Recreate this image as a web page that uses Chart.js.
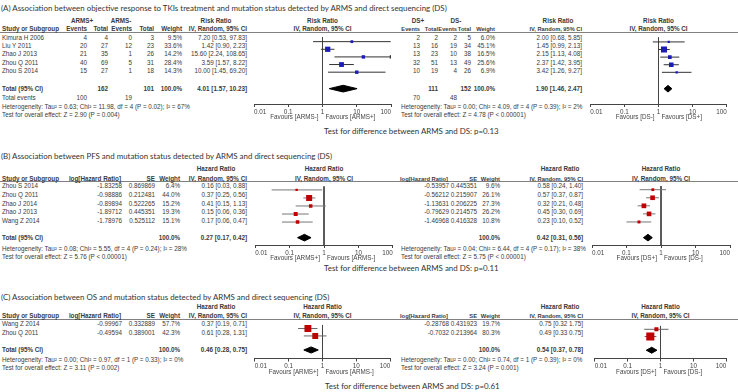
<!DOCTYPE html>
<html>
<head>
<meta charset="utf-8">
<script src="https://cdn.jsdelivr.net/npm/chart.js@4.4.1/dist/chart.umd.min.js"></script>
<style>
  html, body { margin: 0; padding: 0; background: #fff; }
  body { position: relative; width: 738px; height: 392px; overflow: hidden;
         font-family: "Liberation Sans", Arial, sans-serif; color: #3a3a3a; }
  .t { position: absolute; white-space: nowrap; font-size: 6.3px; line-height: 8px; }
  .b { font-weight: bold; }
  .title { position: absolute; white-space: nowrap; font-family: Lato, "Open Sans", sans-serif;
           font-size: 9.4px; line-height: 12px; color: #333; }
  .rule { position: absolute; left: 0; width: 738px; height: 1px; background: #808080; }
  canvas { position: absolute; }
</style>
</head>
<body>
<script>
const tickVals = [0.01, 0.1, 1, 10, 100];

// (A) objective response to TKIs - risk ratio
const aTitle     = '(A) Association between objective response to TKIs treatment and mutation status detected by ARMS and direct sequencing (DS)';
const aStudies   = ['Kimura H 2006', 'Liu Y 2011', 'Zhao J 2013', 'Zhou Q 2011', 'Zhou S 2014'];
const aArmsEvPos = [4, 20, 21, 40, 15];
const aArmsNPos  = [4, 27, 35, 69, 27];
const aArmsEvNeg = [0, 12, 1, 5, 1];
const aArmsNNeg  = [3, 23, 26, 31, 18];
const aArmsW     = [9.5, 33.6, 14.2, 28.4, 14.3];
const aArmsRR    = [7.20, 1.42, 15.60, 3.59, 10.00];
const aArmsLo    = [0.53, 0.90, 2.24, 1.57, 1.45];
const aArmsHi    = [97.83, 2.23, 108.65, 8.22, 69.20];
const aArmsTot   = [4.01, 1.57, 10.23];
const aArmsHet   = 'Heterogeneity: Tau² = 0.63; Chi² = 11.98, df = 4 (P = 0.02); I² = 67%';
const aArmsZ     = 'Test for overall effect: Z = 2.90 (P = 0.004)';

const aDsEvPos = [2, 13, 13, 32, 10];
const aDsNPos  = [2, 16, 23, 51, 19];
const aDsEvNeg = [2, 19, 10, 13, 4];
const aDsNNeg  = [5, 34, 38, 49, 26];
const aDsW     = [6.0, 45.1, 16.5, 25.6, 6.9];
const aDsRR    = [2.00, 1.45, 2.15, 2.37, 3.42];
const aDsLo    = [0.68, 0.99, 1.13, 1.42, 1.26];
const aDsHi    = [5.85, 2.13, 4.08, 3.95, 9.27];
const aDsTot   = [1.90, 1.46, 2.47];
const aDsHet   = 'Heterogeneity: Tau² = 0.00; Chi² = 4.09, df = 4 (P = 0.39); I² = 2%';
const aDsZ     = 'Test for overall effect: Z = 4.78 (P < 0.00001)';
const aDiff    = 'Test for difference between ARMS and DS: p=0.13';

// (B) PFS - hazard ratio
const bTitle     = '(B) Association between PFS and mutation status detected by ARMS and direct sequencing (DS)';
const bStudies   = ['Zhou S 2014', 'Zhou Q 2011', 'Zhao J 2014', 'Zhao J 2013', 'Wang Z 2014'];
const bArmsLogHR = [-1.83258, -0.98886, -0.89894, -1.89712, -1.78976];
const bArmsSE    = [0.869869, 0.212481, 0.522265, 0.445351, 0.525112];
const bArmsW     = [6.4, 44.0, 15.2, 19.3, 15.1];
const bArmsHR    = [0.16, 0.37, 0.41, 0.15, 0.17];
const bArmsLo    = [0.03, 0.25, 0.15, 0.06, 0.06];
const bArmsHi    = [0.88, 0.56, 1.13, 0.36, 0.47];
const bArmsTot   = [0.27, 0.17, 0.42];
const bArmsHet   = 'Heterogeneity: Tau² = 0.08; Chi² = 5.55, df = 4 (P = 0.24); I² = 28%';
const bArmsZ     = 'Test for overall effect: Z = 5.76 (P < 0.00001)';

const bDsLogHR = [-0.53957, -0.56212, -1.13631, -0.79629, -1.46968];
const bDsSE    = [0.445351, 0.215907, 0.206225, 0.214575, 0.416328];
const bDsW     = [9.6, 26.1, 27.3, 26.2, 10.8];
const bDsHR    = [0.58, 0.57, 0.32, 0.45, 0.23];
const bDsLo    = [0.24, 0.37, 0.21, 0.30, 0.10];
const bDsHi    = [1.40, 0.87, 0.48, 0.69, 0.52];
const bDsTot   = [0.42, 0.31, 0.56];
const bDsHet   = 'Heterogeneity: Tau² = 0.04; Chi² = 6.44, df = 4 (P = 0.17); I² = 38%';
const bDsZ     = 'Test for overall effect: Z = 5.75 (P < 0.00001)';
const bDiff    = 'Test for difference between ARMS and DS: p=0.11';

// (C) OS - hazard ratio
const cTitle     = '(C) Association between OS and mutation status detected by ARMS and direct sequencing (DS)';
const cStudies   = ['Wang Z 2014', 'Zhou Q 2011'];
const cArmsLogHR = [-0.99967, -0.49594];
const cArmsSE    = [0.332889, 0.389001];
const cArmsW     = [57.7, 42.3];
const cArmsHR    = [0.37, 0.61];
const cArmsLo    = [0.19, 0.28];
const cArmsHi    = [0.71, 1.31];
const cArmsTot   = [0.46, 0.28, 0.75];
const cArmsHet   = 'Heterogeneity: Tau² = 0.00; Chi² = 0.97, df = 1 (P = 0.33); I² = 0%';
const cArmsZ     = 'Test for overall effect: Z = 3.11 (P = 0.002)';

const cDsLogHR = [-0.28768, -0.7032];
const cDsSE    = [0.431923, 0.213964];
const cDsW     = [19.7, 80.3];
const cDsHR    = [0.75, 0.49];
const cDsLo    = [0.32, 0.33];
const cDsHi    = [1.75, 0.75];
const cDsTot   = [0.54, 0.37, 0.78];
const cDsHet   = 'Heterogeneity: Tau² = 0.00; Chi² = 0.74, df = 1 (P = 0.39); I² = 0%';
const cDsZ     = 'Test for overall effect: Z = 3.24 (P = 0.001)';
const cDiff    = 'Test for difference between ARMS and DS: p=0.61';

// page layout (pixels)
const layA = { title: 8, h1: 21, h2: 29, rule: 32, row0: 38, step: 8.2, tot: 88.5, totEv: 97.5,
               het: 106.5, z: 114.5, axis: 105, diff: 131, left: [251, 394], right: [587, 730] };
const layB = { title: 155.5, h1: 168.5, h2: 178.5, rule: 181, row0: 186, step: 8.75, tot: 238,
               het: 248.5, z: 257, axis: 246, diff: 268, left: [252, 396], right: [589, 733] };
const layC = { title: 296.5, h1: 306.7, h2: 316, rule: 319, row0: 324.3, step: 8.7, tot: 349.5,
               het: 359.5, z: 368, axis: 359.5, diff: 386, left: [251, 394], right: [590, 731] };

// column right edges: [events+, total+, events-, total-, weight, CI], group centres, header centre
const evLeft  = { cols: [87, 108, 132, 154, 182, 247], gP: 82, gN: 121, head: 216, het: 2, hfs: 6.3 };
const evRight = { cols: [420, 438, 457, 471, 495, 582], gP: 418, gN: 456, head: 558, het: 401, hfs: 5.7 };
// [logHR, SE, weight, CI]
const hrLeft  = { cols: [122, 155, 180, 247], head: 216, het: 2, hfs: 6.3 };
const hrRight = { cols: [449, 477, 500, 583], head: 560, het: 401, hfs: 5.8 };

Chart.defaults.font.family = '"Liberation Sans", Arial, sans-serif';

const f2  = v => v.toFixed(2);
const ci  = (e, l, h, sep = ', ') => `${f2(e)} [${f2(l)}${sep}${f2(h)}]`;
const pct = w => w.toFixed(1) + '%';
const sum = a => a.reduce((s, v) => s + v, 0);

function put(s, x, y, align = 'l', bold = false, cls = 't', size = null) {
  const d = document.createElement('div');
  d.className = cls + (bold ? ' b' : '');
  d.textContent = s;
  d.style.left = x + 'px';
  d.style.top = y + 'px';
  if (size) d.style.fontSize = size + 'px';
  const tx = align === 'r' ? '-100%' : align === 'c' ? '-50%' : '0';
  d.style.transform = `translate(${tx},-50%)`;
  document.body.appendChild(d);
  return d;
}

function rule(y) {
  const d = document.createElement('div');
  d.className = 'rule';
  d.style.top = y + 'px';
  document.body.appendChild(d);
}

const favours = {
  id: 'favours',
  afterDraw(chart, args, opts) {
    const { ctx, chartArea, scales: { x } } = chart;
    const px = x.getPixelForValue(1);
    ctx.save();
    ctx.font = '6.3px "Liberation Sans"';
    ctx.fillStyle = '#444';
    ctx.textBaseline = 'middle';
    ctx.textAlign = 'right';
    ctx.fillText(opts.left, px - 4, chartArea.bottom + 13.5);
    ctx.textAlign = 'left';
    ctx.fillText(opts.right, px + 3, chartArea.bottom + 13.5);
    ctx.restore();
  }
};

function forest(L, span, est, lo, hi, weight, tot, color, lineColor, favL, favR, head) {
  const [x0, x1] = span;
  const top = L.rule + 1;
  const yMin = (top - L.row0) / L.step;
  const yMax = (L.axis - L.row0) / L.step;
  const yTot = (L.tot - L.row0) / L.step;
  const dh = 3.6 / L.step;
  const axisH = 3 + 1 + 6.3 * 1.2;
  const h = Math.ceil(L.axis - top + axisH + 14);

  put(head, (x0 + x1) / 2, L.h1, 'c', true);
  put('IV, Random, 95% CI', (x0 + x1) / 2, L.h2, 'c', true);

  const cv = document.createElement('canvas');
  cv.width = x1 - x0 + 2;
  cv.height = h;
  cv.style.left = (x0 - 1) + 'px';
  cv.style.top = top + 'px';
  document.body.appendChild(cv);

  const sets = [];
  sets.push({ data: [{ x: 1, y: yMin }, { x: 1, y: yMax }], borderColor: '#444', order: 4 });
  est.forEach((v, i) => {
    sets.push({ data: [{ x: lo[i], y: i }, { x: Math.min(hi[i], 100), y: i }], borderColor: lineColor, order: 3 });
  });
  const over = hi.map((v, i) => v > 100 ? { x: 100, y: i } : null).filter(Boolean);
  if (over.length) {
    sets.push({ data: over, showLine: false, pointStyle: 'triangle', rotation: 90, pointRadius: 2.4,
                backgroundColor: lineColor, borderWidth: 0, order: 2 });
  }
  sets.push({ data: est.map((v, i) => ({ x: v, y: i })), showLine: false, pointStyle: 'rect',
              pointRadius: weight.map(w => Math.sqrt(w) * 0.64), backgroundColor: color,
              borderWidth: 0, order: 1 });
  sets.push({ data: [{ x: tot[1], y: yTot }, { x: tot[0], y: yTot - dh }, { x: tot[2], y: yTot },
                     { x: tot[0], y: yTot + dh }, { x: tot[1], y: yTot }],
              fill: 'shape', backgroundColor: '#000', borderColor: '#000', order: 0 });

  new Chart(cv, {
    type: 'scatter',
    data: { datasets: sets.map(d => ({ showLine: true, pointRadius: 0, borderWidth: 1, fill: false, ...d })) },
    options: {
      responsive: false,
      animation: false,
      devicePixelRatio: 1,
      events: [],
      layout: { padding: { left: 1, right: 1, top: 0, bottom: h - (L.axis - top) - axisH } },
      plugins: { legend: { display: false }, tooltip: { enabled: false }, favours: { left: favL, right: favR } },
      scales: {
        x: {
          type: 'logarithmic', min: 0.01, max: 100,
          afterBuildTicks: ax => { ax.ticks = tickVals.map(v => ({ value: v })); },
          ticks: { callback: v => String(v), font: { size: 6.3, lineHeight: 1.2 }, color: '#444',
                   padding: 1, maxRotation: 0, autoSkip: false, align: 'inner' },
          grid: { drawOnChartArea: false, drawTicks: true, tickLength: 3, color: '#444' },
          border: { color: '#444', width: 1 },
        },
        y: { display: false, reverse: true, min: yMin, max: yMax },
      },
    },
    plugins: [favours],
  });
}

function eventsTable(L, P, studies, evP, nP, evN, nN, w, rr, lo, hi, tot, het, z, gP, gN) {
  const c = P.cols;
  put(gP, P.gP, L.h1, 'c', true);
  put(gN, P.gN, L.h1, 'c', true);
  put('Risk Ratio', P.head, L.h1, 'c', true);
  if (studies) put('Study or Subgroup', 2, L.h2, 'l', true);
  ['Events', 'Total', 'Events', 'Total', 'Weight', 'IV, Random, 95% CI']
    .forEach((s, k) => put(s, c[k], L.h2, 'r', true, 't', P.hfs));
  rr.forEach((v, i) => {
    const y = L.row0 + i * L.step;
    if (studies) put(studies[i], 2, y);
    [evP[i], nP[i], evN[i], nN[i], pct(w[i]), ci(v, lo[i], hi[i])]
      .forEach((s, k) => put(String(s), c[k], y, 'r'));
  });
  if (studies) put('Total (95% CI)', 2, L.tot, 'l', true);
  put(String(sum(nP)), c[1], L.tot, 'r', true);
  put(String(sum(nN)), c[3], L.tot, 'r', true);
  put('100.0%', c[4], L.tot, 'r', true);
  put(ci(tot[0], tot[1], tot[2]), c[5], L.tot, 'r', true);
  if (studies) put('Total events', 2, L.totEv);
  put(String(sum(evP)), c[0], L.totEv, 'r');
  put(String(sum(evN)), c[2], L.totEv, 'r');
  put(het, P.het, L.het);
  put(z, P.het, L.z);
}

function hrTable(L, P, studies, logHR, se, w, hr, lo, hi, tot, het, z, sep = ', ') {
  const c = P.cols;
  put('Hazard Ratio', P.head, L.h1, 'c', true);
  if (studies) put('Study or Subgroup', 2, L.h2, 'l', true);
  put('log[Hazard Ratio]', c[0] - 1, L.h2, 'r', true, 't', P.hfs);
  ['SE', 'Weight', 'IV, Random, 95% CI'].forEach((s, k) => put(s, c[k + 1], L.h2, 'r', true, 't', P.hfs));
  hr.forEach((v, i) => {
    const y = L.row0 + i * L.step;
    if (studies) put(studies[i], 2, y);
    [String(logHR[i]), String(se[i]), pct(w[i]), ci(v, lo[i], hi[i], sep)]
      .forEach((s, k) => put(s, c[k], y, 'r'));
  });
  if (studies) put('Total (95% CI)', 2, L.tot, 'l', true);
  put('100.0%', c[2], L.tot, 'r', true);
  put(ci(tot[0], tot[1], tot[2]), c[3], L.tot, 'r', true);
  put(het, P.het, L.het);
  put(z, P.het, L.z);
}

// titles & rules
const titles = [
  put(aTitle, 1, layA.title, 'l', false, 'title'),
  put(bTitle, 1, layB.title, 'l', false, 'title'),
  put(cTitle, 1, layC.title, 'l', false, 'title'),
  put(aDiff, 324, layA.diff, 'l', false, 'title'),
  put(bDiff, 324, layB.diff, 'l', false, 'title'),
  put(cDiff, 325, layC.diff, 'l', false, 'title'),
];
const fit = 9.4 * 445 / titles[0].getBoundingClientRect().width;
titles.forEach(t => { t.style.fontSize = fit + 'px'; });
[layA, layB, layC].forEach(L => rule(L.rule));

const blue = '#1c1cb8', red = '#c00000';

// (A)
eventsTable(layA, evLeft, aStudies, aArmsEvPos, aArmsNPos, aArmsEvNeg, aArmsNNeg, aArmsW, aArmsRR,
            aArmsLo, aArmsHi, aArmsTot, aArmsHet, aArmsZ, 'ARMS+', 'ARMS-');
eventsTable(layA, evRight, null, aDsEvPos, aDsNPos, aDsEvNeg, aDsNNeg, aDsW, aDsRR,
            aDsLo, aDsHi, aDsTot, aDsHet, aDsZ, 'DS+', 'DS-');
forest(layA, layA.left, aArmsRR, aArmsLo, aArmsHi, aArmsW, aArmsTot, blue, '#333',
       'Favours [ARMS-]', 'Favours [ARMS+]', 'Risk Ratio');
forest(layA, layA.right, aDsRR, aDsLo, aDsHi, aDsW, aDsTot, blue, '#333',
       'Favours [DS-]', 'Favours [DS+]', 'Risk Ratio');

// (B)
hrTable(layB, hrLeft, bStudies, bArmsLogHR, bArmsSE, bArmsW, bArmsHR, bArmsLo, bArmsHi, bArmsTot, bArmsHet, bArmsZ);
hrTable(layB, hrRight, null, bDsLogHR, bDsSE, bDsW, bDsHR, bDsLo, bDsHi, bDsTot, bDsHet, bDsZ);
forest(layB, layB.left, bArmsHR, bArmsLo, bArmsHi, bArmsW, bArmsTot, red, '#777',
       'Favours [ARMS+]', 'Favours [ARMS-]', 'Hazard Ratio');
forest(layB, layB.right, bDsHR, bDsLo, bDsHi, bDsW, bDsTot, red, '#777',
       'Favours [DS+]', 'Favours [DS-]', 'Hazard Ratio');

// (C)
hrTable(layC, hrLeft, cStudies, cArmsLogHR, cArmsSE, cArmsW, cArmsHR, cArmsLo, cArmsHi, cArmsTot, cArmsHet, cArmsZ);
hrTable(layC, hrRight, null, cDsLogHR, cDsSE, cDsW, cDsHR, cDsLo, cDsHi, cDsTot, cDsHet, cDsZ, ' ');
forest(layC, layC.left, cArmsHR, cArmsLo, cArmsHi, cArmsW, cArmsTot, red, '#666',
       'Favours [ARMS+]', 'Favours [ARMS-]', 'Hazard Ratio');
forest(layC, layC.right, cDsHR, cDsLo, cDsHi, cDsW, cDsTot, red, '#666',
       'Favours [DS+]', 'Favours [DS-]', 'Hazard Ratio');
</script>
</body>
</html>
